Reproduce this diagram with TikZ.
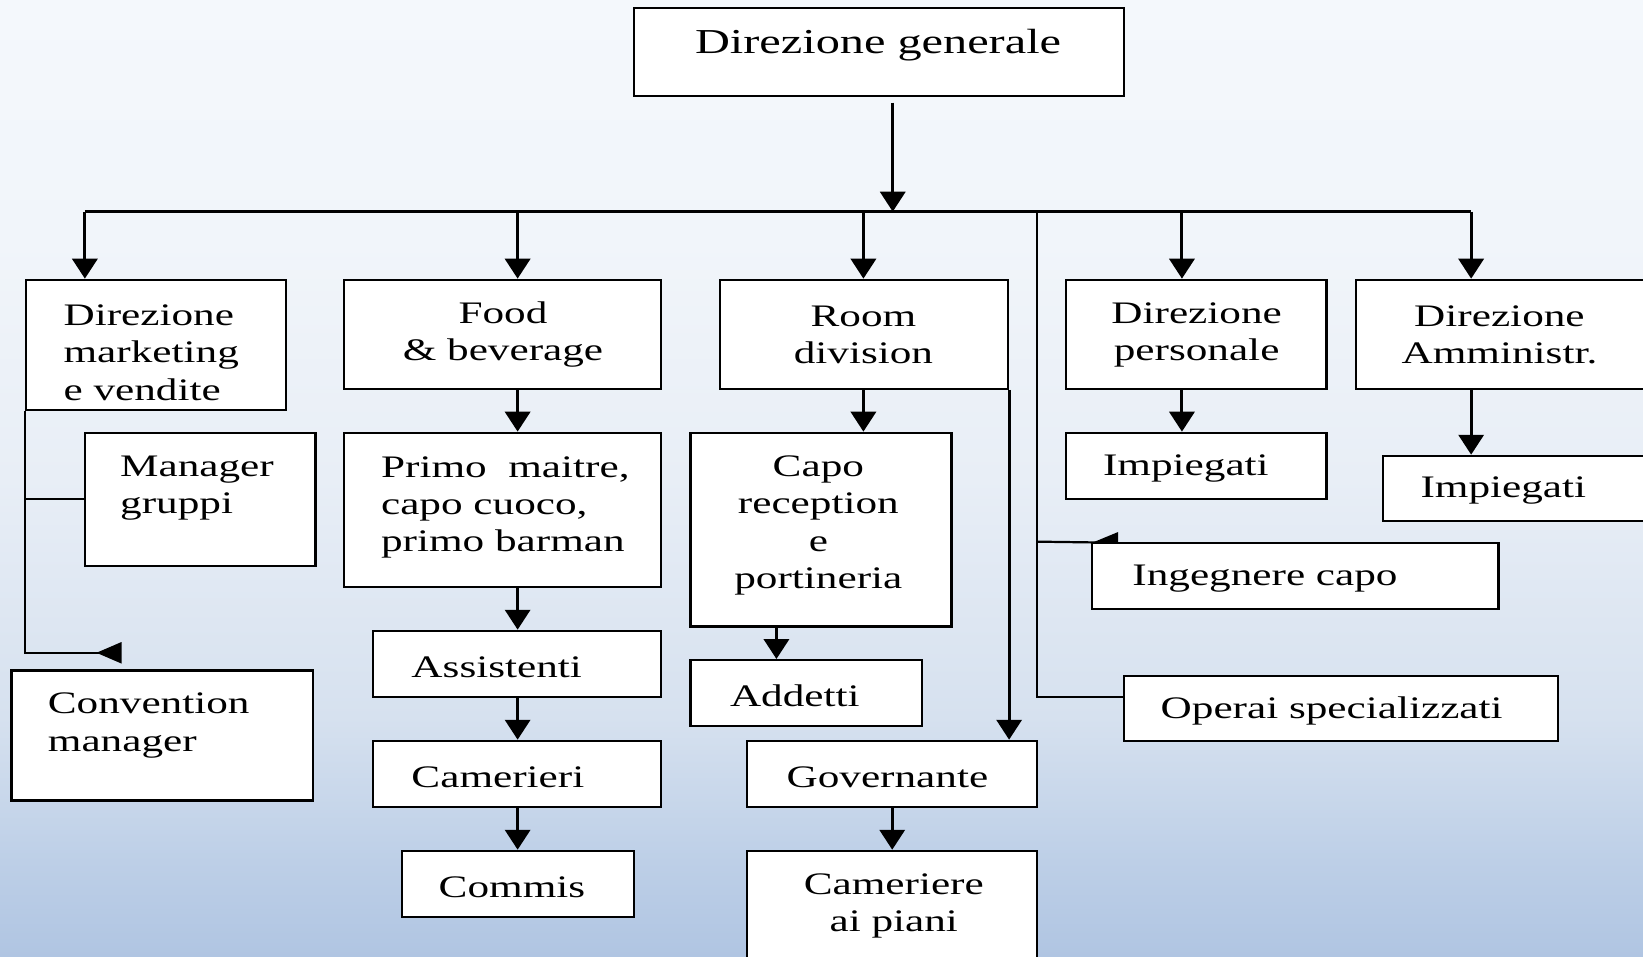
\documentclass[tikz,border=0pt]{standalone}
\usepackage{fontspec}
\setmainfont{Liberation Serif}[FakeStretch=1.38]
\usetikzlibrary{arrows.meta, positioning, fit, calc}

\pgfdeclarelayer{back}
\pgfdeclarelayer{links}
\pgfsetlayers{back,links,main}

\definecolor{bgtop}{HTML}{F4F8FC}
\definecolor{bghigh}{HTML}{F1F5FA}
\definecolor{bgmid}{HTML}{E8EEF6}
\definecolor{bglow}{HTML}{D6E1EF}
\definecolor{bgdeep}{HTML}{BDCFE7}
\definecolor{bgbot}{HTML}{B0C5E2}
\pgfdeclareverticalshading{bgshade}{100bp}{color(0bp)=(bgbot); color(25bp)=(bgbot); color(30bp)=(bgdeep); color(37.5bp)=(bglow); color(50bp)=(bgmid); color(62.5bp)=(bghigh); color(75bp)=(bgtop); color(100bp)=(bgtop)}

\begin{document}
\begin{tikzpicture}[x=0.01cm, y=-0.01cm]
 \tikzstyle{box}=[draw, fill=white, line width=0.6pt, inner sep=0pt]
 \tikzstyle{lbl}=[inner sep=0pt, yshift=-0.035cm, font=\fontsize{8.5}{10.1}\selectfont]
 \tikzstyle{line}=[draw, line width=0.8pt, -{Triangle[width=0.24cm, length=0.19cm]}]
 \tikzstyle{rline}=[draw, line width=0.8pt, -{Triangle[width=0.2cm, length=0.24cm, reversed]}]
 \tikzstyle{link}=[draw, line width=0.6pt]

 \useasboundingbox (0,0) rectangle (1568,913);
 \begin{pgfonlayer}{back}
  \shade[shading=bgshade] (0,0) rectangle (1568,913);
 \end{pgfonlayer}

 % top
 \node[box, fit={(605,8) (1073,92)}] (gen) {};
 \node[lbl, font=\fontsize{9.5}{11}\selectfont] (gen-l) at (838,40) {Direzione generale};

 % first level
 \node[box, fit={(25,267) (273,391)}] (mkt) {};
 \node[lbl, align=left, anchor=west] (mkt-l) at (60,333) {Direzione\\marketing\\e vendite};
 \node[box, fit={(328,267) (631,371)}] (fb) {};
 \node[lbl, align=center] (fb-l) at (480,316) {Food\\\& beverage};
 \node[box, fit={(687,267) (962,371)}] (room) {};
 \node[lbl, align=center] (room-l) at (824,316) {Room\\division};
 \node[box, fit={(1017,267) (1266,371)}] (pers) {};
 \node[lbl, align=center] (pers-l) at (1142,316) {Direzione\\personale};
 \node[box, fit={(1294,267) (1590,371)}] (amm) {};
 \node[lbl, align=center] (amm-l) at (1431,316) {Direzione\\Amministr.};

 % marketing
 \node[box, fit={(81,413) (301,540)}] (mgr) {};
 \node[lbl, align=left, anchor=west] (mgr-l) at (114,462) {Manager\\gruppi};
 \node[box, fit={(11,640) (299,764)}] (conv) {};
 \node[lbl, align=left, anchor=west] (conv-l) at (45,689) {Convention\\manager};

 % food & beverage
 \node[box, fit={(328,413) (631,560)}] (primo) {};
 \node[lbl, align=left, anchor=west] (primo-l) at (363,481) {Primo\ \ maitre,\\capo cuoco,\\primo barman};
 \node[box, fit={(356,602) (631,665)}] (assist) {};
 \node[lbl, anchor=west] (assist-l) at (392,633) {Assistenti};
 \node[box, fit={(356,707) (631,770)}] (cam) {};
 \node[lbl, anchor=west] (cam-l) at (392,738) {Camerieri};
 \node[box, fit={(384,812) (605,875)}] (commis) {};
 \node[lbl, anchor=west] (commis-l) at (418,843) {Commis};

 % room division
 \node[box, fit={(659,413) (908,598)}] (capo) {};
 \node[lbl, align=center] (capo-l) at (781,498) {Capo\\reception\\e\\portineria};
 \node[box, fit={(659,630) (880,693)}] (addetti) {};
 \node[lbl, anchor=west] (addetti-l) at (696,661) {Addetti};
 \node[box, fit={(713,707) (990,770)}] (gov) {};
 \node[lbl, anchor=west] (gov-l) at (750,738) {Governante};
 \node[box, fit={(713,812) (990,935)}] (camp) {};
 \node[lbl, align=center] (camp-l) at (853,861) {Cameriere\\ai piani};

 % right side
 \node[box, fit={(1017,413) (1266,476)}] (imp1) {};
 \node[lbl, anchor=west] (imp1-l) at (1052,444) {Impiegati};
 \node[box, fit={(1320,435) (1590,497)}] (imp2) {};
 \node[lbl, anchor=west] (imp2-l) at (1355,465) {Impiegati};
 \node[box, fit={(1042,518) (1430,581)}] (ing) {};
 \node[lbl, anchor=west] (ing-l) at (1080,549) {Ingegnere capo};
 \node[box, fit={(1073,645) (1487,707)}] (oper) {};
 \node[lbl, anchor=west] (oper-l) at (1107,675) {Operai specializzati};

 \begin{pgfonlayer}{links}
  \coordinate (hub) at (852,202);
  \coordinate (b1) at (81,202);
  \coordinate (b2) at (494,202);
  \coordinate (b3) at (824,202);
  \coordinate (b4) at (990,202);
  \coordinate (b5) at (1128,202);
  \coordinate (b6) at (1404,202);
  \path[line, shorten <=0.05cm] (gen.south -| hub) -- (hub);
  \draw[link, line width=0.8pt] (b1) -- (b6);
  \path[line] (b1) -- (b1 |- mkt.north);
  \path[line] (b2) -- (b2 |- fb.north);
  \path[line] (b3) -- (b3 |- room.north);
  \path[line] (b5) -- (b5 |- pers.north);
  \path[line] (b6) -- (b6 |- amm.north);

  % marketing
  \coordinate (cv) at (116,623);
  \path[rline, line width=0.6pt] (mkt.south west) |- (cv);
  \draw[link] (mkt.south west |- mgr.west) -- (mgr.west);

  % food & beverage
  \path[line] (b2 |- fb.south) -- (b2 |- primo.north);
  \path[line] (b2 |- primo.south) -- (b2 |- assist.north);
  \path[line] (b2 |- assist.south) -- (b2 |- cam.north);
  \path[line] (b2 |- cam.south) -- (b2 |- commis.north);

  % room division
  \coordinate (xad) at (741,0);
  \path[line] (b3 |- room.south) -- (b3 |- capo.north);
  \path[line] (xad |- capo.south) -- (xad |- addetti.north);
  \path[line] (room.south east) -- (room.south east |- gov.north);
  \path[line] (gov.south) -- (camp.north);

  % personale / amministrazione
  \path[line] (b5 |- pers.south) -- (b5 |- imp1.north);
  \path[line] (b6 |- amm.south) -- (b6 |- imp2.north);

  % tecnici
  \coordinate (op) at (990,665);
  \coordinate (ig) at (1067,518);
  \draw[link] (b4) -- (op) -- (op -| oper.west);
  \path[rline, line width=0.6pt] (b4 |- ing.north) -- (ig);
 \end{pgfonlayer}
\end{tikzpicture}
\end{document}
